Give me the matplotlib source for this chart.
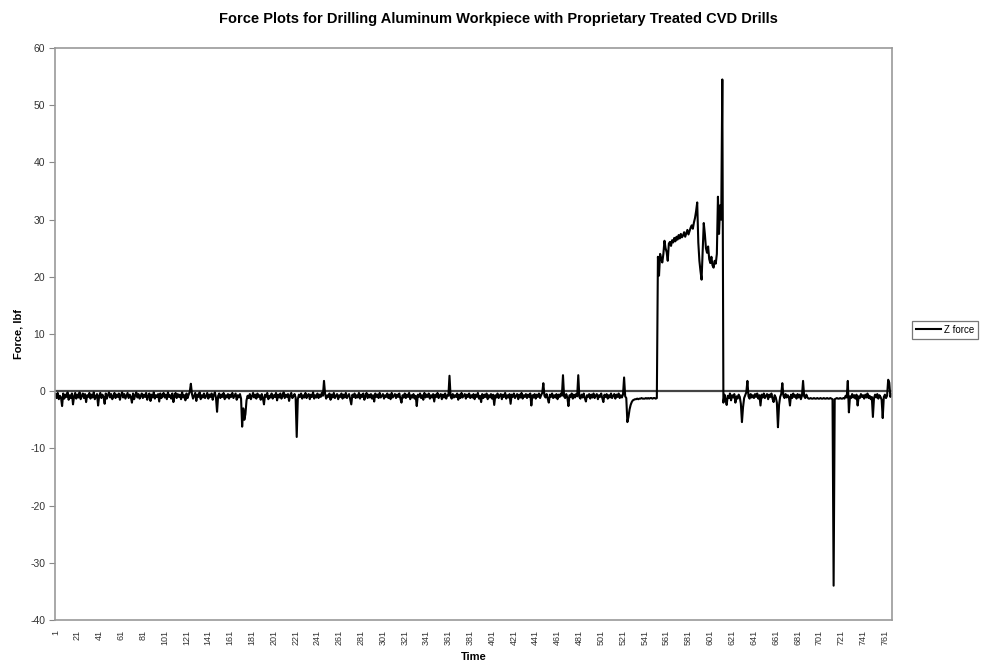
import matplotlib
matplotlib.use("Agg")
import matplotlib.pyplot as plt
import numpy as np

plt.rcParams['font.family'] = ['Liberation Sans', 'DejaVu Sans']

title = "Force Plots for Drilling Aluminum Workpiece with Proprietary Treated CVD Drills"
y_label = "Force, lbf"
x_label = "Time"
series_name = "Z force"

z_force = [
    -0.5,-1.2,-0.3,-1.4,-0.8,-1.1,-2.6,-0.4,-1.3,-0.6,-1.0,-0.2,-1.5,-0.7,-1.2,-0.4,-2.3,-0.9,-0.3,-1.3,
    -0.6,-1.1,-0.2,-1.4,-0.8,-0.4,-1.2,-0.5,-1.9,-0.7,-1.0,-0.3,-1.3,-0.6,-1.1,-0.2,-1.4,-0.9,-0.5,-2.5,
    -0.8,-0.3,-1.2,-0.6,-1.0,-2.2,-0.4,-1.3,-0.7,-0.2,-1.1,-0.5,-1.4,-0.9,-0.3,-1.2,-0.6,-1.0,-0.4,-1.5,
    -0.7,-0.2,-1.1,-0.5,-1.3,-0.8,-0.3,-1.2,-0.6,-1.0,-2.0,-0.4,-1.4,-0.7,-0.2,-1.1,-0.5,-1.3,-0.9,-0.4,
    -1.2,-0.6,-1.0,-0.3,-1.5,-0.8,-0.4,-1.7,-0.6,-1.1,-0.2,-1.3,-0.7,-1.0,-0.5,-1.8,-0.4,-1.2,-0.8,-0.3,
    -1.1,-0.6,-1.4,-0.2,-1.0,-0.7,-1.3,-0.4,-1.9,-0.8,-0.3,-1.2,-0.5,-1.0,-0.6,-1.4,-0.2,-1.1,-0.7,-1.6,
    -0.4,-1.2,-0.6,-0.1,1.3,-0.5,-1.3,-0.8,-0.3,-1.7,-0.6,-1.0,-0.2,-1.4,-0.7,-1.1,-0.4,-1.2,-0.9,-0.3,
    -1.3,-0.6,-1.0,-0.4,-1.5,-0.7,-0.2,-1.1,-3.6,-0.8,-0.4,-1.2,-0.6,-1.0,-0.3,-1.4,-0.7,-1.1,-0.5,-1.3,
    -0.6,-1.0,-0.3,-1.2,-0.8,-0.4,-1.5,-0.7,-1.1,-0.5,-1.3,-6.2,-3.0,-5.0,-4.0,-1.6,-0.8,-1.2,-0.5,-1.4,
    -0.9,-0.3,-1.1,-0.6,-1.3,-0.4,-1.0,-0.7,-1.5,-0.5,-1.2,-2.3,-0.6,-1.0,-0.3,-1.4,-0.8,-1.1,-0.4,-1.3,
    -0.7,-1.0,-0.3,-1.6,-0.6,-1.1,-0.4,-1.3,-0.8,-0.2,-1.2,-0.6,-1.0,-0.5,-1.7,-0.7,-0.3,-1.2,-0.9,-0.5,
    -1.1,-8.0,-1.4,-0.6,-1.0,-0.4,-1.3,-0.7,-1.1,-0.3,-1.2,-0.8,-0.5,-1.4,-0.6,-1.0,-0.2,-1.3,-0.7,-1.1,
    -0.4,-1.2,-0.6,-1.0,-0.3,-0.8,1.8,-0.5,-1.3,-0.7,-1.0,-0.4,-1.5,-0.6,-1.1,-0.3,-1.2,-0.8,-0.5,-1.4,
    -0.7,-1.0,-0.4,-1.3,-0.6,-1.1,-0.3,-1.2,-0.8,-0.5,-1.4,-2.3,-0.6,-1.0,-0.4,-1.2,-0.7,-1.1,-0.3,-1.3,
    -0.6,-1.0,-0.4,-1.5,-0.8,-0.3,-1.2,-0.6,-1.1,-0.5,-1.3,-0.7,-1.8,-0.4,-1.0,-0.6,-1.2,-0.3,-1.1,-0.8,
    -0.5,-1.3,-0.7,-1.0,-0.4,-1.2,-0.6,-1.4,-0.3,-1.1,-0.8,-0.5,-1.2,-0.6,-1.0,-0.4,-1.3,-2.0,-0.7,-1.1,
    -0.4,-1.2,-0.6,-1.0,-0.3,-1.4,-0.7,-1.1,-0.5,-1.3,-0.8,-2.6,-0.6,-1.0,-0.4,-1.2,-0.7,-1.5,-0.3,-1.1,
    -0.6,-1.0,-0.4,-1.3,-0.7,-1.1,-0.5,-1.8,-0.6,-1.0,-0.3,-1.2,-0.8,-0.5,-1.4,-0.6,-1.1,-0.4,-1.3,-0.7,
    -0.8,2.7,-0.9,-1.3,-0.5,-1.1,-0.7,-1.0,-0.4,-1.5,-0.6,-1.2,-0.3,-1.1,-0.8,-0.5,-1.3,-0.6,-1.0,-0.4,
    -1.2,-0.7,-1.1,-0.5,-1.4,-0.6,-1.0,-0.3,-1.3,-0.8,-1.9,-0.5,-1.2,-0.6,-1.0,-0.4,-1.4,-0.7,-1.1,-0.5,
    -1.3,-0.6,-2.4,-0.7,-1.1,-0.4,-1.2,-0.8,-0.5,-1.4,-0.6,-1.0,-0.3,-1.3,-0.7,-1.1,-0.5,-2.2,-0.6,-1.0,
    -0.4,-1.2,-0.8,-0.5,-1.4,-0.6,-1.1,-0.3,-1.3,-0.7,-1.0,-0.5,-1.2,-0.6,-1.0,-0.4,-2.5,-0.7,-1.1,-0.5,
    -1.3,-0.6,-1.0,-0.4,-1.2,-0.7,-0.3,1.4,-0.8,-1.1,-0.5,-1.3,-2.0,-0.6,-1.0,-0.4,-1.2,-0.7,-1.1,-0.5,
    -1.4,-0.6,-1.0,-0.4,-0.8,2.8,-0.9,-1.2,-0.5,-1.1,-2.6,-0.7,-1.0,-0.4,-1.3,-0.6,-1.1,-0.5,-0.9,2.8,
    -1.0,-1.3,-0.6,-1.1,-0.4,-1.2,-1.8,-0.7,-1.0,-0.5,-1.3,-0.6,-1.1,-0.4,-1.2,-0.8,-0.5,-1.4,-0.7,-1.0,
    -0.4,-1.2,-1.9,-0.6,-1.0,-0.5,-1.3,-0.7,-1.1,-0.4,-1.2,-0.8,-0.5,-1.3,-0.6,-1.0,-0.4,-1.2,-0.7,-1.1,
    -0.6,2.4,-0.9,-1.2,-5.4,-4.5,-3.2,-2.4,-1.9,-1.6,-1.5,-1.4,-1.4,-1.3,-1.4,-1.3,-1.3,-1.2,-1.3,-1.3,
    -1.3,-1.2,-1.3,-1.2,-1.3,-1.2,-1.2,-1.3,-1.2,-1.2,-1.3,-1.2,23.5,20.2,24.0,23.2,22.5,24.0,26.3,25.0,
    24.3,22.8,25.8,26.1,25.4,26.4,26.0,26.8,26.2,27.0,26.5,27.3,26.7,27.5,26.9,27.2,27.8,27.0,27.6,28.2,
    27.4,28.0,28.6,29.0,28.4,29.5,30.3,31.5,33.0,26.0,22.8,21.0,19.5,24.5,29.4,27.5,25.0,24.2,25.3,23.1,
    22.4,23.5,22.0,21.6,22.8,22.3,24.0,34.0,27.5,32.5,30.0,54.5,-2.0,-0.6,-1.4,-2.4,-0.8,-1.2,-0.4,-1.6,
    -0.7,-1.1,-0.5,-2.0,-0.9,-1.3,-0.6,-1.0,-2.2,-5.4,-2.8,-1.2,-0.7,-0.2,1.8,-0.9,-1.3,-0.5,-1.1,-0.7,
    -1.2,-0.5,-1.0,-0.4,-1.3,-0.7,-2.5,-0.6,-1.1,-0.4,-1.2,-0.8,-0.5,-1.4,-0.6,-1.0,-0.4,-1.3,-1.9,-0.7,
    -1.1,-2.0,-6.3,-2.4,-1.0,-0.5,1.4,-0.8,-1.2,-0.5,-1.1,-0.7,-1.0,-2.5,-0.6,-1.2,-0.4,-1.0,-0.7,-1.3,
    -0.5,-1.1,-0.6,-1.4,-0.8,1.8,-0.9,-1.2,-0.6,-1.1,-1.3,-1.3,-1.2,-1.3,-1.3,-1.2,-1.3,-1.3,-1.2,-1.3,
    -1.3,-1.2,-1.3,-1.3,-1.2,-1.3,-1.3,-1.2,-1.3,-1.3,-1.2,-1.3,-1.4,-34.0,-1.4,-1.3,-1.2,-1.3,-1.3,-1.2,
    -1.3,-1.3,-1.2,-1.3,-0.8,-1.1,1.8,-3.7,-0.9,-1.2,-0.5,-1.1,-0.7,-1.3,-0.6,-2.5,-0.9,-1.2,-0.5,-1.0,
    -0.7,-1.3,-0.6,-1.1,-0.4,-1.2,-0.8,-1.4,-1.0,-4.5,-1.2,-0.6,-1.1,-0.5,-1.3,-0.7,-1.0,-1.5,-4.7,-1.0,
    -0.6,-1.2,-0.8,2.0,1.5,-1.0,-0.5,
]

time_labels = [str(t) for t in range(1, len(z_force) + 1)]
label_step = 20
y_ticks = [-40, -30, -20, -10, 0, 10, 20, 30, 40, 50, 60]

fig = plt.figure(figsize=(9.87, 6.72), dpi=100)
ax = fig.add_axes([55/987, 1 - 620/672, (892-55)/987, (620-48)/672])

x = np.arange(len(z_force))
ax.axhline(0, color='#444444', lw=1.6, zorder=1)
line, = ax.plot(x, z_force, color='black', lw=1.5, label=series_name, zorder=2)

ax.set_xlim(-0.5, len(z_force) - 0.5)
ax.set_ylim(-40, 60)
ax.set_yticks(y_ticks)
ax.set_yticklabels([str(v) for v in y_ticks], fontsize=7.5, color='#333333')
tick_pos = x[::label_step]
ax.set_xticks(tick_pos)
ax.set_xticklabels([time_labels[i] for i in tick_pos], rotation=90, fontsize=6.5, color='#333333')
ax.tick_params(axis='x', length=0, pad=7)
ax.tick_params(axis='y', length=4, width=0.8, color='#888888', direction='out', pad=3)

for s in ax.spines.values():
    s.set_color('#999999')
    s.set_linewidth(1.2)

ax.set_ylabel(y_label, fontsize=8, fontweight='bold', labelpad=5)
ax.set_xlabel(x_label, fontsize=8, fontweight='bold', labelpad=5)

fig.text(0.505, 1 - 19/672, title, ha='center', va='center', fontsize=10.5, fontweight='bold')

leg = fig.legend(handles=[line], loc='upper left', bbox_to_anchor=(912/987, 1 - 321/672),
                 fontsize=7, frameon=True, fancybox=False, handlelength=2.6, borderpad=0.4,
                 handletextpad=0.3, borderaxespad=0)
leg.get_frame().set_edgecolor('#555555')
leg.get_frame().set_linewidth(0.9)

fig.savefig('out.png', dpi=100)
